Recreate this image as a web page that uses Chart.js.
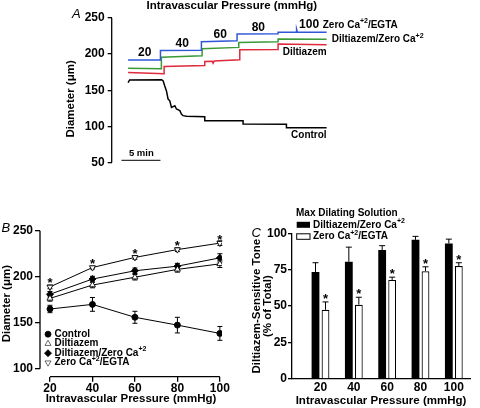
<!DOCTYPE html>
<html>
<head>
<meta charset="utf-8">
<script src="https://cdn.jsdelivr.net/npm/chart.js@4.4.0/dist/chart.umd.min.js"></script>
<style>
  body { margin: 0; background: #fff; width: 480px; height: 408px; position: relative; overflow: hidden; }
  canvas { position: absolute; }
  #chartA { left: 0; top: 0; }
  #chartB { left: 0; top: 190px; }
  #chartC { left: 245px; top: 190px; }
</style>
</head>
<body>
<canvas id="chartA" width="464" height="190"></canvas>
<canvas id="chartB" width="245" height="218"></canvas>
<canvas id="chartC" width="235" height="218"></canvas>
<script>
// ---- data ----
// panel A : diameter traces, [time (min), diameter (um)]
const traceEgta = [[0,191.7],[4.15,191.7],[4.15,205.1],[9.4,205.3],[9.4,217.1],[13.97,218.5],[13.97,227.8],[19.23,228.2],[19.23,230.4],[21.6,230.4],[21.6,234.5],[21.7,230.4],[25.45,230.2]];
const traceDiltZero = [[0,180.6],[4.27,179.6],[4.27,195.8],[9.49,197.7],[9.49,207.4],[14.19,209.3],[14.19,216.2],[19.23,217.1],[19.23,220.8],[25.45,220.6]];
const traceDilt = [[0,174.5],[4.62,172.7],[4.62,182.9],[9.83,184.3],[9.83,189.8],[10.8,190.2],[10.9,187.5],[11.05,190.6],[14.32,192.1],[14.32,206],[19.23,206.4],[19.23,213.9],[25.45,213]];
const traceControl = [[0,160.5],[0.2,164.2],[4.3,164.6],[4.5,162.8],[4.7,155.9],[4.92,149],[5.13,137.7],[5.35,135.4],[5.56,126.3],[5.99,128.5],[6.2,124],[6.63,121.7],[6.84,117.1],[7.05,114.8],[7.48,114],[9.83,113.4],[9.83,107.9],[14.74,107.6],[14.74,103.2],[20.3,103],[20.3,98.1],[25.45,98]];
const scaleBar = [[-0.85,53],[4.15,53]]; // 5 min
const yTicksA = [50,100,150,200,250];

// panel B : mean diameter vs pressure
const pressures = [20,40,60,80,100];
const controlB = [165,170,156,147.5,138.5];
const controlErrB = [4,7.5,6.5,8.5,7.5];
const diltB = [176.5,191,199.5,208,214];
const diltErrB = [3,3,3,3,4];
const diltZeroB = [181,197.5,206.5,211.5,220.5];
const diltZeroErrB = [3,3,3,3,4.5];
const egtaB = [189,210,221,229.5,236.5];
const egtaErrB = [2,1.5,2,2,2.5];
const yTicksB = [100,150,200,250];

// panel C : diltiazem-sensitive tone (% of total)
const toneDiltZero = [73.5,80.5,88.5,95.5,93];
const toneDiltZeroErr = [6.3,10,3,2.4,3];
const toneEgta = [47.5,51,68,74,77.5];
const toneEgtaErr = [5.4,5.1,1.9,3,2.3];
const yTicksC = [0,25,50,75,100];

const FONT = '"Liberation Sans", Arial, Helvetica, sans-serif';
Chart.defaults.font.family = FONT;
Chart.defaults.font.weight = 'bold';
Chart.defaults.color = '#000';
Chart.defaults.animation = false;

// text with a raised "+2"
function drawRich(ctx, text, x, y, size, align) {
  const segs = text.split(/(\+2)/).filter(s => s);
  const big = 'bold ' + size + 'px ' + FONT;
  const small = 'bold ' + Math.round(size * 0.7) + 'px ' + FONT;
  let w = 0;
  segs.forEach(s => { ctx.font = s === '+2' ? small : big; w += ctx.measureText(s).width; });
  let cx = align === 'center' ? x - w / 2 : align === 'right' ? x - w : x;
  ctx.textAlign = 'left';
  ctx.textBaseline = 'middle';
  segs.forEach(s => {
    const sup = s === '+2';
    ctx.font = sup ? small : big;
    ctx.fillText(s, cx, sup ? y - size * 0.38 : y);
    cx += ctx.measureText(s).width;
  });
}

function panelLetter(ctx, letter, x, y) {
  ctx.save();
  ctx.font = 'italic 13px ' + FONT;
  ctx.fillStyle = '#000';
  ctx.textAlign = 'left';
  ctx.textBaseline = 'alphabetic';
  ctx.fillText(letter, x, y);
  ctx.restore();
}

const pts = arr => arr.map(p => ({x: p[0], y: p[1]}));
const fixTicks = list => (scale => { scale.ticks = list.map(v => ({value: v})); });

// ---------------- panel A ----------------
const annotA = {
  id: 'annotA',
  afterDraw(chart) {
    const {ctx, scales: {x, y}, chartArea} = chart;
    ctx.save();
    ctx.fillStyle = '#000';
    // y axis line 50..250
    ctx.strokeStyle = '#000'; ctx.lineWidth = 1.3;
    ctx.beginPath();
    ctx.moveTo(chartArea.left, y.getPixelForValue(50));
    ctx.lineTo(chartArea.left, y.getPixelForValue(250));
    ctx.stroke();
    // header
    ctx.font = 'bold 11.5px ' + FONT;
    ctx.textAlign = 'center';
    ctx.textBaseline = 'alphabetic';
    ctx.fillText('Intravascular Pressure (mmHg)', x.getPixelForValue(13.3), 8.6);
    // pressure step labels
    const at = [[2.14,202],[6.95,214.4],[11.8,227.4],[16.7,237],[23.2,240.4]];
    pressures.forEach((p, i) => drawRich(ctx, String(p), x.getPixelForValue(at[i][0]), y.getPixelForValue(at[i][1]), 12, 'center'));
    drawRich(ctx, 'Zero Ca+2/EGTA', x.getPixelForValue(24.95), y.getPixelForValue(240.4), 10, 'left');
    drawRich(ctx, 'Diltiazem/Zero Ca+2', x.getPixelForValue(26.1), y.getPixelForValue(220), 10, 'left');
    drawRich(ctx, 'Diltiazem', x.getPixelForValue(25.45), y.getPixelForValue(203), 10, 'right');
    drawRich(ctx, 'Control', x.getPixelForValue(25.45), y.getPixelForValue(87.4), 10, 'right');
    drawRich(ctx, '5 min', x.getPixelForValue(1.7), y.getPixelForValue(63), 9.5, 'center');
    ctx.restore();
    panelLetter(ctx, 'A', 72, 18);
  }
};

new Chart(document.getElementById('chartA'), {
  type: 'line',
  data: {
    datasets: [
      { data: pts(traceEgta), borderColor: '#2f57d6', borderWidth: 1.5 },
      { data: pts(traceDiltZero), borderColor: '#3a9a37', borderWidth: 1.5 },
      { data: pts(traceDilt), borderColor: '#de2a3c', borderWidth: 1.5 },
      { data: pts(traceControl), borderColor: '#000', borderWidth: 1.5 },
      { data: pts(scaleBar), borderColor: '#000', borderWidth: 1 }
    ]
  },
  options: {
    responsive: false,
    layout: { padding: { left: 0, right: 137, top: 18, bottom: 8.5 } },
    elements: { point: { radius: 0 }, line: { tension: 0 } },
    plugins: { legend: { display: false }, tooltip: { enabled: false } },
    scales: {
      x: { type: 'linear', min: -2.1, max: 25.5, display: false },
      y: {
        min: 26, max: 250,
        afterBuildTicks: fixTicks(yTicksA),
        afterFit: s => { s.width = 111.7; },
        border: { display: false },
        grid: { drawOnChartArea: false, tickLength: 4, color: '#000', lineWidth: 1.3 },
        ticks: { font: { size: 12, weight: 'bold' }, padding: 3, color: '#000' },
        title: { display: true, text: 'Diameter (\u03bcm)', font: { size: 11.5, weight: 'bold' }, padding: { top: 64, bottom: 0 }, color: '#000' }
      }
    }
  },
  plugins: [annotA]
});

// ---------------- panel B ----------------
const seriesB = [
  { vals: controlB, err: controlErrB },
  { vals: diltB, err: diltErrB },
  { vals: diltZeroB, err: diltZeroErrB },
  { vals: egtaB, err: egtaErrB }
];
const markB = [
  { label: 'Control', pointStyle: 'circle', fill: '#000', rot: 0 },
  { label: 'Diltiazem', pointStyle: 'triangle', fill: '#fff', rot: 0 },
  { label: 'Diltiazem/Zero Ca+2', pointStyle: 'rectRot', fill: '#000', rot: 0 },
  { label: 'Zero Ca+2/EGTA', pointStyle: 'triangle', fill: '#fff', rot: 180 }
];

const decoB = {
  id: 'decoB',
  beforeDatasetsDraw(chart) {
    const {ctx, scales: {x, y}, chartArea} = chart;
    ctx.save();
    ctx.strokeStyle = '#000';
    // axis lines (Prism style, detached)
    ctx.lineWidth = 1.3;
    ctx.beginPath();
    ctx.moveTo(chartArea.left, y.getPixelForValue(100));
    ctx.lineTo(chartArea.left, y.getPixelForValue(250));
    ctx.moveTo(x.getPixelForValue(20), chartArea.bottom);
    ctx.lineTo(x.getPixelForValue(100), chartArea.bottom);
    ctx.stroke();
    // error bars
    ctx.lineWidth = 1;
    seriesB.forEach(s => s.vals.forEach((v, i) => {
      const px = x.getPixelForValue(pressures[i]);
      const lo = y.getPixelForValue(v - s.err[i]);
      const hi = y.getPixelForValue(v + s.err[i]);
      ctx.beginPath();
      ctx.moveTo(px, lo); ctx.lineTo(px, hi);
      ctx.moveTo(px - 2.5, lo); ctx.lineTo(px + 2.5, lo);
      ctx.moveTo(px - 2.5, hi); ctx.lineTo(px + 2.5, hi);
      ctx.stroke();
    }));
    ctx.restore();
  },
  afterDraw(chart) {
    const {ctx, scales: {x, y}, chartArea} = chart;
    ctx.save();
    ctx.fillStyle = '#000';
    // significance asterisks above the EGTA curve
    ctx.font = 'bold 13px ' + FONT;
    ctx.textAlign = 'center';
    ctx.textBaseline = 'alphabetic';
    egtaB.forEach((v, i) => ctx.fillText('*', x.getPixelForValue(pressures[i]), y.getPixelForValue(v) + 0.5));
    // legend
    const rows = [-42.5, -33, -23.5, -14];
    markB.forEach((m, i) => {
      const cy = chartArea.bottom + rows[i];
      ctx.fillStyle = m.fill;
      ctx.strokeStyle = m.fill === '#fff' ? '#444' : '#000';
      ctx.lineWidth = 0.8;
      Chart.helpers.drawPoint(ctx, { pointStyle: m.pointStyle, radius: m.pointStyle === 'circle' ? 3 : 3.5, rotation: m.rot, borderWidth: 0.8 }, chartArea.left + 8, cy);
      ctx.fillStyle = '#000';
      drawRich(ctx, m.label, chartArea.left + 14.5, cy, 10, 'left');
    });
    ctx.restore();
    panelLetter(ctx, 'B', 1.5, 41.7);
  }
};

new Chart(document.getElementById('chartB'), {
  type: 'line',
  data: {
    datasets: seriesB.map((s, k) => ({
      label: markB[k].label,
      data: pressures.map((p, i) => ({ x: p, y: s.vals[i] })),
      borderColor: '#000', borderWidth: 1,
      pointStyle: markB[k].pointStyle,
      pointRotation: markB[k].rot,
      pointRadius: markB[k].pointStyle === 'circle' ? 3 : 3.5,
      pointBackgroundColor: markB[k].fill,
      pointBorderColor: '#000', pointBorderWidth: 0.9
    }))
  },
  options: {
    responsive: false,
    layout: { padding: { left: 0, right: 23, top: 40.7, bottom: 0 } },
    elements: { line: { tension: 0 } },
    plugins: { legend: { display: false }, tooltip: { enabled: false } },
    scales: {
      x: {
        type: 'linear', min: 15.3, max: 101,
        afterBuildTicks: fixTicks(pressures),
        afterFit: s => { s.height = 31.3; },
        border: { display: false },
        grid: { drawOnChartArea: false, tickLength: 5, color: '#000', lineWidth: 1.3 },
        ticks: { font: { size: 12, weight: 'bold' }, padding: 0, color: '#000', maxRotation: 0 },
        title: { display: true, text: 'Intravascular Pressure (mmHg)', font: { size: 11.5, weight: 'bold' }, padding: { top: 0, bottom: 2 }, color: '#000' }
      },
      y: {
        min: 91.5, max: 250,
        afterBuildTicks: fixTicks(yTicksB),
        afterFit: s => { s.width = 40; },
        border: { display: false },
        grid: { drawOnChartArea: false, tickLength: 5, color: '#000', lineWidth: 1.3 },
        ticks: { font: { size: 12, weight: 'bold' }, padding: 2, color: '#000' },
        title: { display: true, text: 'Diameter (\u03bcm)', font: { size: 11.5, weight: 'bold' }, padding: { top: 0, bottom: 0 }, color: '#000' }
      }
    }
  },
  plugins: [decoB]
});

// ---------------- panel C ----------------
const toneSets = [
  { vals: toneDiltZero, err: toneDiltZeroErr },
  { vals: toneEgta, err: toneEgtaErr }
];

const decoC = {
  id: 'decoC',
  afterDatasetsDraw(chart) {
    const {ctx, scales: {y}, chartArea} = chart;
    ctx.save();
    ctx.strokeStyle = '#000';
    ctx.fillStyle = '#000';
    ctx.lineWidth = 1;
    toneSets.forEach((s, di) => {
      const bars = chart.getDatasetMeta(di).data;
      s.vals.forEach((v, i) => {
        const bx = bars[i].x;
        const top = y.getPixelForValue(v);
        const cap = y.getPixelForValue(v + s.err[i]);
        ctx.beginPath();
        ctx.moveTo(bx, top); ctx.lineTo(bx, cap);
        ctx.moveTo(bx - 3, cap); ctx.lineTo(bx + 3, cap);
        ctx.stroke();
        if (di === 1) {
          ctx.font = 'bold 13px ' + FONT;
          ctx.textAlign = 'center';
          ctx.textBaseline = 'alphabetic';
          ctx.fillText('*', bx, cap + 0.9);
        }
      });
    });
    // legend
    const L = chartArea.left, T = chartArea.top;
    ctx.fillStyle = '#000';
    drawRich(ctx, 'Max Dilating Solution', L + 4, T - 20.5, 10, 'left');
    ctx.fillRect(L + 4.7, T - 11.5, 13.3, 6);
    drawRich(ctx, 'Diltiazem/Zero Ca+2', L + 21, T - 8.5, 10, 'left');
    ctx.fillStyle = '#fff';
    ctx.fillRect(L + 4.7, T + 0.5, 13.3, 5.5);
    ctx.strokeRect(L + 4.7, T + 0.5, 13.3, 5.5);
    ctx.fillStyle = '#000';
    drawRich(ctx, 'Zero Ca+2/EGTA', L + 21, T + 3.3, 10, 'left');
    ctx.restore();
    panelLetter(ctx, 'C', 6.5, 46.5);
  }
};

new Chart(document.getElementById('chartC'), {
  type: 'bar',
  data: {
    datasets: [
      { label: 'Diltiazem/Zero Ca+2', data: pressures.map((p, i) => ({ x: p, y: toneDiltZero[i] })), backgroundColor: '#000', borderColor: '#000', borderWidth: 0 },
      { label: 'Zero Ca+2/EGTA', data: pressures.map((p, i) => ({ x: p, y: toneEgta[i] })), backgroundColor: '#fff', borderColor: '#000', borderWidth: 1.2 }
    ]
  },
  options: {
    responsive: false,
    layout: { padding: { left: 0, right: 10, top: 43.3, bottom: 0 } },
    categoryPercentage: 0.6,
    barPercentage: 0.78,
    plugins: { legend: { display: false }, tooltip: { enabled: false } },
    scales: {
      x: {
        type: 'linear', min: 2.9, max: 109.7, offset: false,
        afterBuildTicks: fixTicks(pressures),
        afterFit: s => { s.height = 29; },
        border: { display: true, color: '#000', width: 1.3 },
        grid: { display: false, drawTicks: false, tickLength: 0, offset: false },
        ticks: { font: { size: 12, weight: 'bold' }, padding: 1, color: '#000', maxRotation: 0 },
        title: { display: true, text: 'Intravascular Pressure (mmHg)', font: { size: 11.5, weight: 'bold' }, padding: { top: 0, bottom: 0 }, color: '#000' }
      },
      y: {
        min: 0, max: 100,
        afterBuildTicks: fixTicks(yTicksC),
        afterFit: s => { s.width = 47; },
        border: { display: true, color: '#000', width: 1.3 },
        grid: { drawOnChartArea: false, tickLength: 4, color: '#000', lineWidth: 1.3 },
        ticks: { font: { size: 12, weight: 'bold' }, padding: 1, color: '#000' },
        title: { display: true, text: ['Diltiazem-Sensitive Tone', '(% of Total)'], font: { size: 11.5, weight: 'bold', lineHeight: 0.92 }, padding: { top: 6.5, bottom: 0 }, color: '#000' }
      }
    }
  },
  plugins: [decoC]
});
</script>
</body>
</html>
